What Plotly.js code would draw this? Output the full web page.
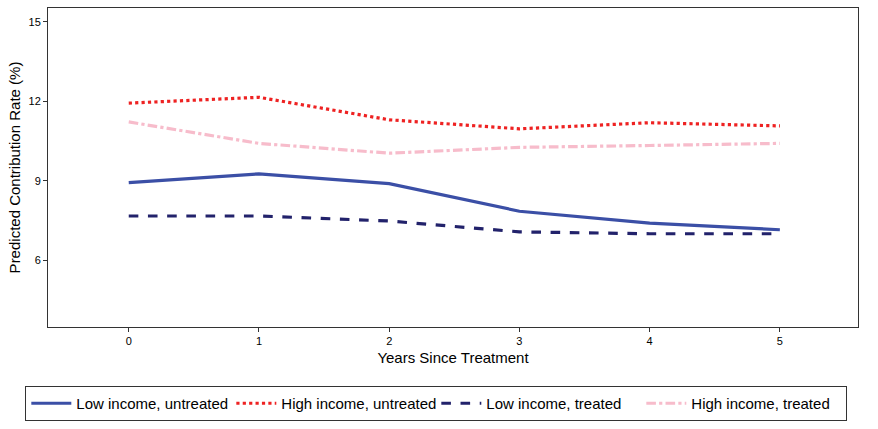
<!DOCTYPE html>
<html>
<head>
<script src="https://cdn.plot.ly/plotly-3.0.1.min.js"></script>
<style>body{margin:0}#chart{width:878px;height:429px}</style>
</head>
<body>
<div id="chart"></div>
<script>
var years = [0, 1, 2, 3, 4, 5];
var lowUntreated = [8.93, 9.26, 8.89, 7.85, 7.40, 7.15];
var highUntreated = [11.93, 12.15, 11.30, 10.96, 11.19, 11.07];
var lowTreated = [7.67, 7.67, 7.48, 7.07, 7.00, 7.00];
var highTreated = [11.22, 10.41, 10.04, 10.26, 10.33, 10.41];

function line(y, name, color, dash) {
    return {
        x: years, y: y, name: name, type: 'scatter', mode: 'lines',
        line: {color: color, dash: dash, width: 3.2}
    };
}

var data = [
    line(lowUntreated, 'Low income, untreated', '#3b4fa6', 'solid'),
    line(highUntreated, 'High income, untreated', '#ee2222', 'dot'),
    line(lowTreated, 'Low income, treated', '#22226b', 'dash'),
    line(highTreated, 'High income, treated', '#f7bccb', 'dashdot')
];

var layout = {
    width: 878, height: 429,
    margin: {l: 48, r: 20, t: 8, b: 96},
    paper_bgcolor: 'white',
    plot_bgcolor: 'white',
    font: {family: 'Arial, Liberation Sans, sans-serif', color: '#000'},
    xaxis: {
        range: [-0.62, 5.6], tickvals: years, showgrid: false, zeroline: false,
        showline: true, mirror: true, linecolor: '#333', linewidth: 1,
        ticks: 'outside', ticklen: 4, tickcolor: '#333', tickfont: {size: 11},
        title: {text: 'Years Since Treatment', font: {size: 15}, standoff: 6}
    },
    yaxis: {
        range: [3.48, 15.52], tickvals: [6, 9, 12, 15], showgrid: false, zeroline: false,
        showline: true, mirror: true, linecolor: '#333', linewidth: 1,
        ticks: 'outside', ticklen: 4, tickcolor: '#333', tickfont: {size: 11},
        title: {text: 'Predicted Contribution Rate (%)', font: {size: 15}, standoff: 4}
    },
    showlegend: true,
    legend: {
        orientation: 'h', x: -0.028, y: -0.185, xanchor: 'left', yanchor: 'top',
        bordercolor: '#333', borderwidth: 1, font: {size: 15},
        itemwidth: 40, entrywidth: 150, entrywidthmode: 'pixels'
    }
};

Plotly.newPlot('chart', data, layout, {displayModeBar: false});
</script>
</body>
</html>
